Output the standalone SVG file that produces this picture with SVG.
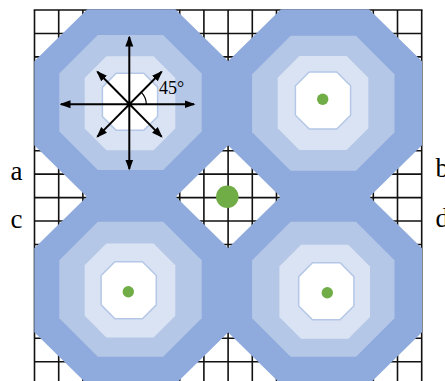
<svg xmlns="http://www.w3.org/2000/svg" width="445" height="381" viewBox="0 0 445 381">
<style>
.grid line{stroke:#111;stroke-width:1.6}
.o1{fill:#8FAADC}
.o2{fill:#B4C7E7}
.o3{fill:#DAE3F3}
.o4{fill:#FFFFFF;stroke:#B4C7E7;stroke-width:1.5}
.dot{fill:#70AD47}
.arr{stroke:#000;stroke-width:2;fill:none;marker-start:url(#ah);marker-end:url(#ah)}
.lbl{font-family:"Liberation Serif","Times New Roman",serif;fill:#000}
</style>
<defs>
<marker id="ah" markerUnits="userSpaceOnUse" markerWidth="11" markerHeight="9" viewBox="0 0 11 9" refX="9.5" refY="4.5" orient="auto-start-reverse">
<path d="M0,0.5 L11,4.5 L0,8.5 z" fill="#000"/>
</marker>
<polygon id="oct1" points="-44,-94 44,-94 97,-42 97,42 44,94 -44,94 -97,42 -97,-42"/>
<polygon id="oct2" points="-32.7,-67.5 32.7,-67.5 71.2,-29 71.2,29 32.7,67.5 -32.7,67.5 -71.2,29 -71.2,-29"/>
<polygon id="oct3" points="-23.6,-47 23.6,-47 45.3,-25.3 45.3,25.3 23.6,47 -23.6,47 -45.3,25.3 -45.3,-25.3"/>
<polygon id="oct4" points="-13.8,-28.5 13.8,-28.5 27.6,-14.7 27.6,14.7 13.8,28.5 -13.8,28.5 -27.6,14.7 -27.6,-14.7"/>
</defs>
<rect width="445" height="381" fill="#fff"/>
<g id="grid" class="grid">
<line x1="34.5" y1="10" x2="34.5" y2="381"/>
<line x1="58.7" y1="10" x2="58.7" y2="381"/>
<line x1="82.9" y1="10" x2="82.9" y2="381"/>
<line x1="107.1" y1="10" x2="107.1" y2="381"/>
<line x1="131.3" y1="10" x2="131.3" y2="381"/>
<line x1="155.5" y1="10" x2="155.5" y2="381"/>
<line x1="179.7" y1="10" x2="179.7" y2="381"/>
<line x1="203.9" y1="10" x2="203.9" y2="381"/>
<line x1="228.1" y1="10" x2="228.1" y2="381"/>
<line x1="252.3" y1="10" x2="252.3" y2="381"/>
<line x1="276.5" y1="10" x2="276.5" y2="381"/>
<line x1="300.7" y1="10" x2="300.7" y2="381"/>
<line x1="324.9" y1="10" x2="324.9" y2="381"/>
<line x1="349.1" y1="10" x2="349.1" y2="381"/>
<line x1="373.3" y1="10" x2="373.3" y2="381"/>
<line x1="397.5" y1="10" x2="397.5" y2="381"/>
<line x1="421.7" y1="10" x2="421.7" y2="381"/>
<line x1="33.7" y1="10" x2="422.5" y2="10"/>
<line x1="34.5" y1="33.45" x2="421.7" y2="33.45"/>
<line x1="34.5" y1="56.9" x2="421.7" y2="56.9"/>
<line x1="34.5" y1="80.35" x2="421.7" y2="80.35"/>
<line x1="34.5" y1="103.8" x2="421.7" y2="103.8"/>
<line x1="34.5" y1="127.25" x2="421.7" y2="127.25"/>
<line x1="34.5" y1="150.7" x2="421.7" y2="150.7"/>
<line x1="34.5" y1="174.15" x2="421.7" y2="174.15"/>
<line x1="34.5" y1="197.6" x2="421.7" y2="197.6"/>
<line x1="34.5" y1="221.05" x2="421.7" y2="221.05"/>
<line x1="34.5" y1="244.5" x2="421.7" y2="244.5"/>
<line x1="34.5" y1="267.95" x2="421.7" y2="267.95"/>
<line x1="34.5" y1="291.4" x2="421.7" y2="291.4"/>
<line x1="34.5" y1="314.85" x2="421.7" y2="314.85"/>
<line x1="34.5" y1="338.3" x2="421.7" y2="338.3"/>
<line x1="34.5" y1="361.75" x2="421.7" y2="361.75"/>
</g>
<g id="outer-rings">
<use href="#oct1" class="o1" x="131.3" y="103.3"/>
<use href="#oct1" class="o1" x="325" y="103.3"/>
<use href="#oct1" class="o1" x="131.3" y="290.3"/>
<use href="#oct1" class="o1" x="325" y="290.3"/>
</g>
<g id="cell-tl">
<use href="#oct2" class="o2" x="130.5" y="102.5"/>
<use href="#oct3" class="o3" x="130" y="103.3"/>
<use href="#oct4" class="o4" x="130" y="101.8"/>
<circle class="dot" cx="129.3" cy="104.3" r="3"/>
</g>
<g id="cell-tr">
<use href="#oct2" class="o2" x="323.3" y="103.3"/>
<use href="#oct3" class="o3" x="323" y="103"/>
<use href="#oct4" class="o4" x="323" y="100.5"/>
<circle class="dot" cx="322.7" cy="99.3" r="5.7"/>
</g>
<g id="cell-bl">
<use href="#oct2" class="o2" x="130.5" y="289.2"/>
<use href="#oct3" class="o3" x="130" y="290.5"/>
<use href="#oct4" class="o4" x="128.7" y="290.2"/>
<circle class="dot" cx="128.3" cy="291.7" r="5.7"/>
</g>
<g id="cell-br">
<use href="#oct2" class="o2" x="323.3" y="289.2"/>
<use href="#oct3" class="o3" x="324.7" y="291.8"/>
<use href="#oct4" class="o4" x="326.3" y="291.3"/>
<circle class="dot" cx="327.3" cy="292.7" r="5.7"/>
</g>
<g id="center-site">
<circle class="dot" cx="227.3" cy="196.7" r="11.3"/>
</g>
<g id="connectors">
<line class="arr" x1="129.3" y1="37" x2="129.3" y2="169"/>
<line class="arr" x1="61" y1="104.3" x2="194" y2="104.3"/>
<line class="arr" x1="97.4" y1="71.7" x2="161.6" y2="136.6"/>
<line class="arr" x1="161.6" y1="71.7" x2="97.4" y2="136.6"/>
<path d="M146.3,104.3 A17,17 0 0 0 141.3,92.3" stroke="#000" stroke-width="1.2" fill="none"/>
</g>
<g id="labels" class="lbl">
<text x="159" y="94" font-size="18">45°</text>
<text x="10.5" y="180" font-size="27">a</text>
<text x="10.5" y="228" font-size="27">c</text>
<text x="435.5" y="177" font-size="27">b</text>
<text x="435.5" y="227" font-size="27">d</text>
</g>
</svg>
